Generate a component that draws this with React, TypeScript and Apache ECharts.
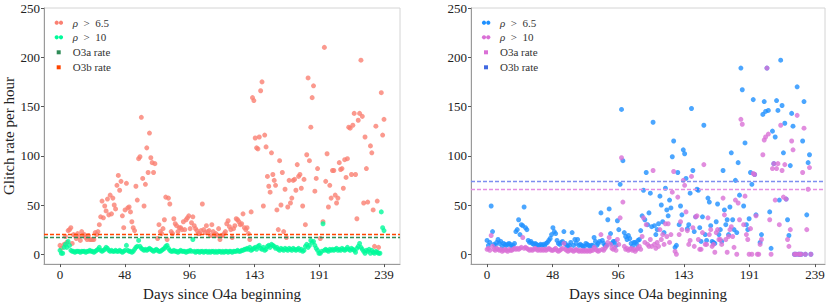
import React, { useEffect, useRef } from "react";
import * as echarts from "echarts";

const FONT = "Liberation Serif";

// tick positions (days since O4a beginning) and rate ticks
const dayTicks = [0, 47.8, 95.6, 143.4, 191.2, 239];
const rateTicks = [0, 50, 100, 150, 200, 250];

// Left panel: rho > 6.5 per day (index = day)
const leftRho65: (number | null)[] = [
  9, 6, null, 10, 18, 12, 24, 25, 27, 11, 20, 19, 16, 21, 18, 14, 23, 19, 20, 17,
  15, 19, 15, 15, 15, 15, 22, 20, 23, 30, 38, 54, 37, 49, 44, 56, 40, 60, 41, 57,
  50, 46, 70, 80, 65, 74, 39, 27, 45, 72, 47, 48, 43, 33, 27, 24, 69, 55, 97, 99,
  139, 77, 49, 71, 108, 83, 123, 98, 93, 83, 92, null, 16, 30, 23, 21, 26, 35, 58, 15,
  57, 51, 23, 21, 36, 31, 29, 23, 27, 27, 25, 33, 25, 35, 37, 39, 26, 32, 38, 29,
  26, 24, 21, 21, 24, 51, 25, 22, 29, 23, 24, 19, 30, 23, 20, 21, 19, 26, 15, 19,
  19, 21, 23, 31, 34, 28, 25, 17, 26, 29, 36, 35, 33, 30, 31, 41, 27, 25, 27, 21,
  15, 43, 159, 156, 118, 108, 107, 119, 166, 175, 49, 121, 109, 79, 69, 63, 103, 81, 75, 70,
  45, 25, 95, 50, 83, 23, 66, 17, 48, 75, 52, 57, 75, 76, 65, 91, 79, 81, 67, 49,
  76, 30, 101, 179, 95, 129, 159, 171, 64, 77, 87, null, 16, null, 33, 210, 74, 102, 48, 70,
  57, 85, 85, 60, 52, 57, 93, 86, 87, 67, 96, 78, 97, 129, 128, 81, 131, 143, 81, 36,
  136, 143, 197, 140, 52, 119, 87, 53, null, 110, 103, 45, 8, 130, 54, 7, null, 164, 121, 137,
];

// Left panel: rho > 10 per day
const leftRho10: (number | null)[] = [
  4, 1, 1, 7, 10, 7, 13, 9, 4, 3, 3, 2, 3, 3, 3, 2, 3, 3, 3, 2,
  3, 3, 4, 3, 3, 2, 3, 4, 5, 7, 4, 3, 4, 5, 7, 6, 4, 3, 4, 3,
  3, 4, 3, 3, 4, 3, 2, 3, 4, 9, 4, 3, 3, 2, 3, 5, 7, 8, 14, 8,
  6, 5, 4, 5, 4, 5, 6, 5, 4, 3, 4, 5, 4, 3, 3, 4, 5, 6, 8, 9,
  6, 4, 3, 3, 4, 3, 3, 2, 3, 4, 3, 3, 3, 2, 3, 3, 4, 3, 15, 3,
  2, 3, 3, 2, 3, 3, 2, 3, 3, 2, 3, 2, 3, 3, 2, 3, 2, 3, 3, 2,
  3, 2, 3, 3, 2, 3, 3, 2, 3, 3, 3, 4, 3, 3, 4, 4, 5, 5, 6, 5,
  7, 4, 5, 6, 7, 5, 8, 9, 6, 5, 7, 4, 5, 8, 9, 7, 10, 9, 8, 6,
  7, 5, 4, 6, 5, 4, 6, 5, 4, 6, 5, 4, 6, 5, 4, 5, 6, 4, 5, 3,
  4, 8, 10, 7, 9, 14, 12, 13, 9, 6, 4, 1, 1, 3, 31, 4, 5, 4, 3, 5,
  4, 5, 4, 5, 6, 4, 5, 4, 6, 5, 4, 5, 7, 5, 4, 6, 5, 4, 2, 6,
  8, 11, 7, 5, 3, 1, 4, 3, 5, 1, 4, 2, 1, 3, 2, 1, 1, 43, 27, 24,
];

// Right panel: rho > 6.5 per day
const rightRho65: (number | null)[] = [
  14, 9, 12, 49, 23, 10, 9, 12, 15, 11, 13, 8, 11, 10, 9, 10, 11, 10, 8, 9,
  11, 23, 25, 35, 20, 30, 29, 48, 27, 25, 14, 12, 13, 11, 10, 11, 10, 9, 9, 10,
  9, 10, 9, 11, 12, 14, 16, 20, 27, 23, 21, 14, 11, 10, 12, 13, 23, 11, 9, 8,
  9, 12, 22, 9, 15, 11, 15, 9, 10, 9, 8, 8, 11, 10, 9, 8, 9, 9, 17, 13,
  9, 11, 13, 42, 14, 11, 9, 9, 35, 46, 21, 11, 13, 13, 9, 34, 25, 71, 147, 95,
  22, 18, 15, 19, 16, 11, 8, 12, 12, 10, 14, 15, 24, 39, 65, 35, 83, 30, 42, 62,
  28, 134, 29, 20, 25, 31, 59, 50, 33, 22, 67, 45, 39, 55, 47, 99, 115, 7, 9, 83,
  30, 49, 40, 106, 102, 77, 26, 30, 62, 148, 85, 23, 38, 66, 65, 27, 13, 38, 131, 20,
  14, 57, 53, 29, 13, 12, 11, 33, 51, 20, 25, 13, 85, 45, 30, 35, 20, 48, 103, 35,
  25, 75, 22, 93, 60, 189, 167, 49, 113, 30, 25, 36, 83, 71, 157, 81, 40, null, null, 12,
  20, 142, 155, 145, 189, 146, 43, 6, 125, 92, 119, 156, 146, 55, 197, 151, 103, 133, 56, 35,
  19, 90, 143, 130, 0, 0, 170, 0, 0, 0, 115, 155, 0, 40, 93, 101, 0, null, null, null,
];

// Right panel: rho > 10 per day
const rightRho10: (number | null)[] = [
  5, 6, 4, 19, 8, 5, 4, 6, 5, 4, 5, 3, 4, 5, 4, 3, 5, 4, 4, 5,
  6, 5, 6, 5, 6, 7, 17, 6, 7, 6, 5, 4, 5, 4, 5, 6, 5, 4, 5, 4,
  5, 4, 5, 4, 5, 6, 5, 4, 4, 5, 6, 4, 3, 4, 5, 6, 11, 5, 4, 3,
  4, 5, 4, 3, 4, 5, 4, 3, 4, 3, 4, 3, 4, 3, 4, 3, 4, 4, 7, 5,
  4, 3, 4, 20, 5, 4, 6, 8, 12, 17, 10, 6, 5, 7, 4, 15, 10, 37, 98, 53,
  8, 5, 6, 4, 5, 6, 4, 5, 3, 5, 6, 8, 5, 18, 37, 12, 30, 10, 8, 15,
  8, 85, 10, 6, 12, 8, 25, 15, 20, 10, 31, 18, 31, 12, 20, 63, 84, 3, 0, 58,
  20, 33, 25, 75, 70, 43, 24, 10, 14, 79, 27, 8, 38, 39, 15, 5, 5, 22, 91, 10,
  10, 37, 20, 25, 8, 10, 2, 22, 25, 15, 15, 10, 57, 40, 15, 2, 18, 25, 28, 18,
  7, 55, 0, 52, 35, 137, 132, 30, 59, 20, 15, 0, 26, 0, 82, 81, 39, 0, 0, 10,
  15, 101, 116, 119, 189, 122, 35, 0, 87, 92, 55, 87, 92, 30, 131, 85, 58, 91, 56, 15,
  8, 25, 115, 106, 0, 0, 141, 0, 0, 0, 83, 128, 0, 25, 66, 88, 0, null, null, null,
];

// Reference rates (glitches per hour)
const leftO3aRate = 17.5;
const leftO3bRate = 20;
const rightO3aRate = 66;
const rightO3bRate = 74;

const toPoints = (arr: (number | null)[]) => {
  const out: [number, number][] = [];
  arr.forEach((v, i) => {
    if (v !== null) out.push([i, v]);
  });
  return out;
};

const legendRich = {
  i: { fontStyle: "italic" as const, fontFamily: FONT, fontSize: 11, fill: "#333" },
};

function legendGroup(x0: number, c65: string, c10: string, cA: string, cB: string) {
  const rows = [22.7, 37.3, 52.3, 67.3];
  const children: any[] = [];
  const dots = (y: number, c: string) => [
    { type: "circle", shape: { cx: x0, cy: y, r: 2.1 }, style: { fill: c } },
    { type: "circle", shape: { cx: x0 + 4.3, cy: y, r: 2.1 }, style: { fill: c } },
  ];
  children.push(...dots(rows[0], c65), ...dots(rows[1], c10));
  children.push({ type: "rect", shape: { x: x0, y: rows[2] - 2, width: 4, height: 4 }, style: { fill: cA } });
  children.push({ type: "rect", shape: { x: x0, y: rows[3] - 2, width: 4, height: 4 }, style: { fill: cB } });
  const texts = ["{i|\u03c1}  >  6.5", "{i|\u03c1}  >  10", "O3a rate", "O3b rate"];
  texts.forEach((t, k) => {
    children.push({
      type: "text",
      x: x0 + 16,
      y: rows[k],
      style: {
        text: t,
        rich: legendRich,
        fontFamily: FONT,
        fontSize: 11,
        fill: "#333",
        verticalAlign: "middle",
        align: "left",
      },
    });
  });
  return { type: "group", children };
}

function rateLine(value: number, color: string) {
  return {
    silent: true,
    symbol: ["none", "none"],
    label: { show: false },
    lineStyle: { color, type: [4, 2], width: 1.4, opacity: 1 },
    data: [{ yAxis: value }],
  };
}

export default function App() {
  const ref = useRef<HTMLDivElement>(null);
  useEffect(() => {
    if (!ref.current) return;
    const chart = echarts.init(ref.current, undefined, { renderer: "svg" });

    const xAxisBase = (gridIndex: number, min: number, max: number) => ({
      type: "value",
      gridIndex,
      min,
      max,
      name: "Days since O4a beginning",
      nameLocation: "middle",
      nameGap: 18,
      nameTextStyle: { fontFamily: FONT, fontSize: 15, color: "#222" },
      axisLine: { show: true, onZero: false, lineStyle: { color: "#9a9a9a", width: 1 } },
      axisTick: { show: true, customValues: dayTicks, length: 3, lineStyle: { color: "#555" } },
      axisLabel: {
        customValues: dayTicks,
        formatter: (v: number) => String(Math.round(v)),
        fontFamily: FONT,
        fontSize: 13,
        color: "#222",
        margin: 4,
      },
      splitLine: { show: false },
    });

    const yAxisBase = (gridIndex: number, withName: boolean) => ({
      type: "value",
      gridIndex,
      min: -10,
      max: 250,
      name: withName ? "Glitch rate per hour" : "",
      nameLocation: "middle",
      nameGap: 27,
      nameTextStyle: { fontFamily: FONT, fontSize: 15, color: "#222" },
      axisLine: { show: true, onZero: false, lineStyle: { color: "#9a9a9a", width: 1 } },
      axisTick: { show: true, customValues: rateTicks, length: 3, lineStyle: { color: "#555" } },
      axisLabel: {
        customValues: rateTicks,
        fontFamily: FONT,
        fontSize: 13,
        color: "#222",
        margin: 4,
      },
      splitLine: { show: false },
    });

    chart.setOption({
      animation: false,
      backgroundColor: "#ffffff",
      textStyle: { fontFamily: FONT },
      grid: [
        { left: 44, top: 8, width: 356, height: 260, show: true, borderColor: "#d4d4d4", borderWidth: 1 },
        { left: 471, top: 8, width: 354, height: 260, show: true, borderColor: "#d4d4d4", borderWidth: 1 },
      ],
      xAxis: [xAxisBase(0, -11.8, 250.8), xAxisBase(1, -11.7, 246.3)],
      yAxis: [yAxisBase(0, true), yAxisBase(1, false)],
      graphic: [
        legendGroup(56.7, "#FA8072", "#00FA9A", "#2E8B57", "#FF4500"),
        legendGroup(484, "#1E90FF", "#DA70D6", "#DA70D6", "#4169E1"),
      ],
      series: [
        {
          name: "\u03c1 > 6.5 (left)",
          type: "scatter",
          xAxisIndex: 0,
          yAxisIndex: 0,
          symbolSize: 5,
          itemStyle: { color: "#FA8072" },
          data: toPoints(leftRho65),
          markLine: rateLine(leftO3bRate, "#FF4500"),
        },
        {
          name: "\u03c1 > 10 (left)",
          type: "scatter",
          xAxisIndex: 0,
          yAxisIndex: 0,
          symbolSize: 5,
          itemStyle: { color: "#00FA9A" },
          data: toPoints(leftRho10),
          markLine: rateLine(leftO3aRate, "#2E8B57"),
        },
        {
          name: "\u03c1 > 6.5 (right)",
          type: "scatter",
          xAxisIndex: 1,
          yAxisIndex: 1,
          symbolSize: 5,
          itemStyle: { color: "#1E90FF" },
          data: toPoints(rightRho65),
          markLine: rateLine(rightO3bRate, "#7d8ff0"),
        },
        {
          name: "\u03c1 > 10 (right)",
          type: "scatter",
          xAxisIndex: 1,
          yAxisIndex: 1,
          symbolSize: 5,
          itemStyle: { color: "#DA70D6" },
          data: toPoints(rightRho10),
          markLine: rateLine(rightO3aRate, "#e58ee2"),
        },
      ],
    });
    return () => chart.dispose();
  }, []);

  return (
    <div
      ref={ref}
      style={{ position: "fixed", left: 0, top: 0, width: 831, height: 306, background: "#fff" }}
    />
  );
}
